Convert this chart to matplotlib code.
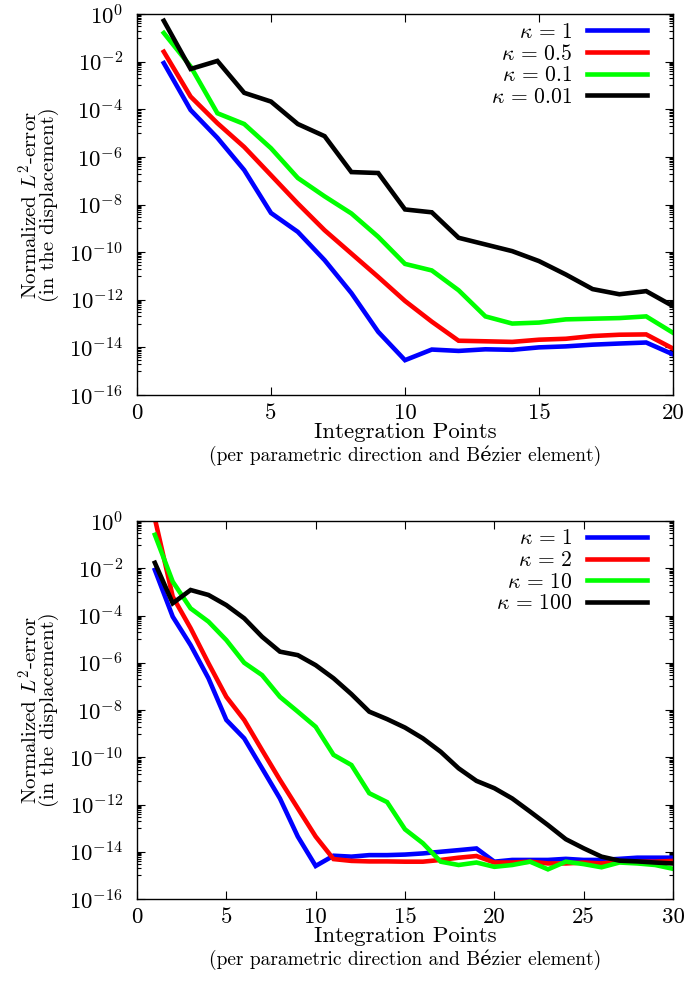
import numpy as np
import matplotlib
matplotlib.use("Agg")
import matplotlib.pyplot as plt
from matplotlib.ticker import FixedLocator, FuncFormatter, NullFormatter

plt.rcParams['font.family'] = ['cmr10', 'DejaVu Serif']
plt.rcParams['mathtext.fontset'] = 'cm'
plt.rcParams['axes.unicode_minus'] = False

# ---------------- data: top panel ----------------
x_top = list(range(1, 21))
labels_top = [r'$\kappa\,=\,1$', r'$\kappa\,=\,0.5$', r'$\kappa\,=\,0.1$', r'$\kappa\,=\,0.01$']
err_top_k1 = [8.7e-3, 9.3e-5, 6.3e-6, 2.8e-7, 4.4e-9, 7.1e-10, 4.6e-11, 1.9e-12, 4.5e-14, 2.9e-15,
              8.1e-15, 7.1e-15, 8.3e-15, 7.9e-15, 1.0e-14, 1.1e-14, 1.3e-14, 1.45e-14, 1.6e-14, 5.1e-15]
err_top_k05 = [2.6e-2, 3.4e-4, 2.6e-5, 2.6e-6, 1.7e-7, 1.1e-8, 8.3e-10, 8.7e-11, 9.1e-12, 8.9e-13,
               1.2e-13, 1.9e-14, 1.8e-14, 1.7e-14, 2.1e-14, 2.3e-14, 3.0e-14, 3.4e-14, 3.5e-14, 8.9e-15]
err_top_k01 = [1.6e-1, 6.3e-3, 6.8e-5, 2.4e-5, 2.3e-6, 1.3e-7, 2.2e-8, 4.2e-9, 4.4e-10, 3.2e-11,
               1.7e-11, 2.5e-12, 2.0e-13, 1.0e-13, 1.1e-13, 1.5e-13, 1.6e-13, 1.7e-13, 2.0e-13, 4.1e-14]
err_top_k001 = [5.2e-1, 4.9e-3, 1.07e-2, 4.9e-4, 2.1e-4, 2.4e-5, 7.4e-6, 2.3e-7, 2.1e-7, 6.2e-9,
                4.7e-9, 4.0e-10, 2.1e-10, 1.1e-10, 4.2e-11, 1.15e-11, 2.8e-12, 1.7e-12, 2.3e-12, 5.4e-13]

# ---------------- data: bottom panel ----------------
x_bot = list(range(1, 31))
labels_bot = [r'$\kappa\,=\,1$', r'$\kappa\,=\,2$', r'$\kappa\,=\,10$', r'$\kappa\,=\,100$']
err_bot_k1 = [8.5e-3, 8.9e-5, 5.6e-6, 2.2e-7, 3.8e-9, 6.3e-10, 3.4e-11, 1.8e-12, 4.4e-14, 2.5e-15,
              6.8e-15, 6.2e-15, 7.2e-15, 7.2e-15, 7.6e-15, 8.5e-15, 1.0e-14, 1.17e-14, 1.38e-14, 3.8e-15,
              4.5e-15, 4.5e-15, 4.5e-15, 5.0e-15, 4.5e-15, 4.5e-15, 5.0e-15, 5.6e-15, 5.6e-15, 5.6e-15]
err_bot_k2 = [1.26, 6.3e-4, 2.9e-5, 9.5e-7, 3.6e-8, 3.8e-9, 2.0e-10, 1.1e-11, 6.9e-13, 4.4e-14,
              4.9e-15, 4.1e-15, 3.9e-15, 3.9e-15, 3.8e-15, 3.8e-15, 4.5e-15, 5.6e-15, 6.6e-15, 3.5e-15,
              3.5e-15, 3.8e-15, 3.2e-15, 3.2e-15, 3.5e-15, 3.2e-15, 3.8e-15, 3.8e-15, 3.8e-15, 4.1e-15]
err_bot_k10 = [2.6e-1, 2.7e-3, 2.0e-4, 5.5e-5, 9.1e-6, 1.0e-6, 3.0e-7, 3.6e-8, 8.5e-9, 1.95e-9,
               1.26e-10, 4.7e-11, 3.0e-12, 1.26e-12, 8.9e-14, 2.3e-14, 3.8e-15, 2.75e-15, 3.5e-15, 2.3e-15,
               2.75e-15, 3.8e-15, 1.8e-15, 3.8e-15, 3.0e-15, 2.2e-15, 3.5e-15, 3.2e-15, 2.75e-15, 1.9e-15]
err_bot_k100 = [1.7e-2, 3.3e-4, 1.2e-3, 7.4e-4, 2.75e-4, 7.6e-5, 1.26e-5, 2.95e-6, 2.1e-6, 7.9e-7,
                2.2e-7, 4.7e-8, 8.5e-9, 4.1e-9, 1.8e-9, 6.3e-10, 1.7e-10, 3.4e-11, 1.0e-11, 4.9e-12,
                1.8e-12, 5.0e-13, 1.35e-13, 3.4e-14, 1.4e-14, 6.2e-15, 4.2e-15, 3.9e-15, 3.5e-15, 3.2e-15]

colors = ['#0000ff', '#ff0000', '#00ff00', '#000000']
ytick_exps = list(range(0, -17, -2))

fig = plt.figure(figsize=(6.86, 9.85), dpi=100)
ax1 = fig.add_axes([137/686, 1 - 395/985, 536/686, 381/985])
ax2 = fig.add_axes([137/686, 1 - 899/985, 536/686, 378/985])


def style(ax, xmax, xstep, h_px):
    ax.set_yscale('log')
    ax.set_ylim(1e-16, 1e0)
    ax.set_xlim(0, xmax)
    ax.yaxis.set_major_locator(FixedLocator([10.0**e for e in ytick_exps]))
    minors = []
    for e in range(-15, 0, 2):
        for k in range(1, 10):
            minors.append(k * 10.0**e)
    ax.yaxis.set_minor_locator(FixedLocator(minors))
    ax.yaxis.set_minor_formatter(NullFormatter())
    ax.yaxis.set_major_formatter(FuncFormatter(lambda v, p: r'$10^{%d}$' % int(round(np.log10(v)))))
    ax.set_xticks(list(range(0, xmax + 1, xstep)))
    ax.tick_params(axis='both', which='both', direction='in', top=True, right=True,
                   labelsize=16.5, width=0.8)
    ax.tick_params(axis='both', which='major', length=6)
    ax.tick_params(axis='y', which='minor', length=3)
    ax.tick_params(axis='x', which='major', pad=6)
    ax.tick_params(axis='y', which='major', pad=10)
    for s in ax.spines.values():
        s.set_linewidth(1.0)
    ax.set_ylabel('Normalized $L^2$-error\n(in the displacement)', fontsize=15, linespacing=0.8)
    ax.yaxis.set_label_coords(-78/536, 0.5)
    ax.set_xlabel('Integration Points', fontsize=16.5, va='center')
    ax.xaxis.set_label_coords(0.5, -37/h_px)
    ax.annotate('(per parametric direction and Bézier element)', xy=(0.5, 0), xycoords='axes fraction',
                xytext=(0, -44), textcoords='offset points', ha='center', va='center', fontsize=14)


for ys, lab, c in zip([err_top_k1, err_top_k05, err_top_k01, err_top_k001], labels_top, colors):
    ax1.plot(x_top, ys, color=c, lw=3.3, label=lab, solid_joinstyle='miter')
style(ax1, 20, 5, 381)

for ys, lab, c in zip([err_bot_k1, err_bot_k2, err_bot_k10, err_bot_k100], labels_bot, colors):
    ax2.plot(x_bot, ys, color=c, lw=3.3, label=lab, solid_joinstyle='miter')
style(ax2, 30, 5, 378)

for ax in (ax1, ax2):
    ax.legend(loc='upper right', frameon=False, markerfirst=False, fontsize=15.5,
              handlelength=2.8, handletextpad=0.65, labelspacing=0.1, borderpad=0.0,
              borderaxespad=0.0, bbox_to_anchor=(0.9515, 0.979))

fig.savefig('out.png', dpi=100)
